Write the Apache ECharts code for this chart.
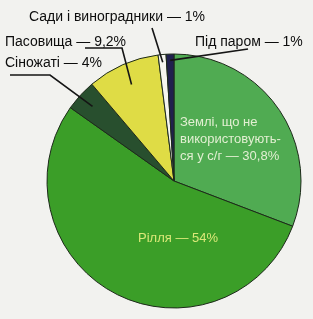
<!DOCTYPE html>
<html><head><meta charset="utf-8">
<script src="https://cdn.jsdelivr.net/npm/echarts@6/dist/echarts.min.js"></script>
<style>html,body{margin:0;padding:0;background:#f2f2ef;}#c{width:313px;height:319px;}</style>
</head><body><div id="c"></div>
<script>
const categories = ['Землі, що не\nвикористовують-\nся у с/г', 'Рілля', 'Сіножаті', 'Пасовища', 'Сади і виноградники', 'Під паром'];
const values = [30.8, 54, 4, 9.2, 1, 1];
const valueLabels = ['30,8%', '54%', '4%', '9,2%', '1%', '1%'];
const colors = ['#50ab52', '#3b9e28', '#284f2e', '#dfdc45', '#f5f5ef', '#20204e'];

// layout constants (not data)
const CENTER = [174, 181];
const RADIUS = 127;
const labelPos = [
  {x: 180, y: 139, align: 'left'},
  {x: 178, y: 238, align: 'center'},
  {x: 5, y: 63, align: 'left', guide: [[10, 75], [50, 75]], depth: 0.87},
  {x: 5, y: 42, align: 'left', guide: [[85, 48], [122, 48]], depth: 0.83},
  {x: 117, y: 17, align: 'center', guide: [[152, 28]], depth: 0.94},
  {x: 195, y: 42, align: 'left', guide: [[248, 49]], depth: 0.95}
];

const total = values.reduce((a, b) => a + b, 0);
function midAngle(i) {
  let before = 0;
  for (let k = 0; k < i; k++) before += values[k];
  return (before + values[i] / 2) / total * Math.PI * 2;
}

const chart = echarts.init(document.getElementById('c'), null, {renderer: 'canvas'});

const fillData = categories.map((n, i) => ({name: n, value: values[i], itemStyle: {color: colors[i]}}));

const labelData = categories.map((n, i) => {
  const inside = i < 2;
  return {
    name: n,
    value: values[i],
    label: {
      show: true,
      formatter: n + ' — ' + valueLabels[i],
      color: i === 0 ? '#e2efd2' : (i === 1 ? '#dbe878' : '#0d0d0d'),
      fontSize: inside ? 13 : 14,
      lineHeight: 17,
      width: 200,
      overflow: 'none',
      fontFamily: 'Liberation Sans, Arial, sans-serif'
    },
    labelLine: {show: !inside, lineStyle: {color: '#151515', width: 1.6}}
  };
});

chart.setOption({
  backgroundColor: '#f2f2ef',
  animation: false,
  series: [{
    type: 'pie',
    z: 2,
    center: CENTER,
    radius: [0, RADIUS],
    startAngle: 90,
    clockwise: true,
    silent: true,
    data: fillData,
    itemStyle: {borderColor: '#1d2a1a', borderWidth: 1},
    label: {show: false},
    labelLine: {show: false}
  }, {
    type: 'pie',
    z: 5,
    center: CENTER,
    radius: [0, RADIUS],
    startAngle: 90,
    clockwise: true,
    silent: true,
    data: labelData,
    itemStyle: {color: 'rgba(0,0,0,0)', borderWidth: 0},
    label: {position: 'outside'},
    labelLine: {length: 10, length2: 10},
    labelLayout: function (p) {
      const i = p.dataIndex;
      const lp = labelPos[i];
      const out = {x: lp.x, y: lp.y, align: lp.align, verticalAlign: 'middle', hideOverlap: false};
      if (lp.guide) {
        const a = midAngle(i);
        const r = RADIUS * lp.depth;
        const end = [CENTER[0] + r * Math.sin(a), CENTER[1] - r * Math.cos(a)];
        out.labelLinePoints = lp.guide.length === 2 ? [lp.guide[0], lp.guide[1], end] : [lp.guide[0], end, end];
      }
      return out;
    }
  }]
});
</script></body></html>
